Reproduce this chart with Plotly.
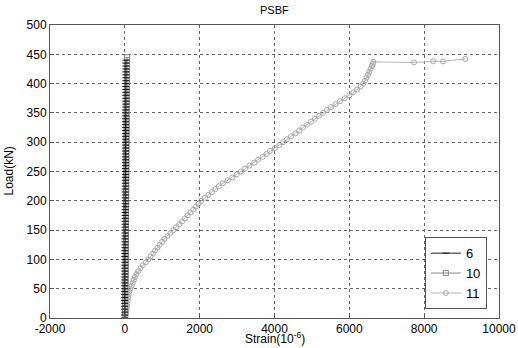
import plotly.graph_objects as go

# ---- data ----
s6_load = [0, 5, 10, 15, 20, 25, 30, 35, 40, 45, 50, 55, 60, 65, 70, 75, 80, 85, 90, 95,
           100, 105, 110, 115, 120, 125, 130, 135, 140, 145, 150, 155, 160, 165, 170, 175, 180, 185, 190, 195,
           200, 205, 210, 215, 220, 225, 230, 235, 240, 245, 250, 255, 260, 265, 270, 275, 280, 285, 290, 295,
           300, 305, 310, 315, 320, 325, 330, 335, 340, 345, 350, 355, 360, 365, 370, 375, 380, 385, 390, 395,
           400, 405, 410, 415, 420, 425, 430, 435, 440]
s6_strain = [0, -2, -3, -4, -5, -5, -6, -6, -5, -5,
             -4, -4, -3, -3, -2, -2, -1, -1, 0, 0,
             1, 1, 2, 2, 3, 3, 4, 4, 5, 5,
             6, 6, 7, 7, 8, 8, 9, 9, 10, 10,
             11, 11, 12, 12, 12, 13, 13, 14, 14, 15,
             15, 15, 16, 16, 17, 17, 17, 18, 18, 18,
             19, 19, 19, 20, 20, 20, 21, 21, 21, 22,
             22, 22, 23, 23, 23, 24, 24, 24, 25, 25,
             25, 26, 26, 27, 27, 27, 28, 28, 29]

s10_load = [0, 5, 10, 15, 20, 25, 30, 35, 40, 45, 50, 55, 60, 65, 70, 75, 80, 85, 90, 95,
            100, 105, 110, 115, 120, 125, 130, 135, 140, 145, 150, 155, 160, 165, 170, 175, 180, 185, 190, 195,
            200, 205, 210, 215, 220, 225, 230, 235, 240, 245, 250, 255, 260, 265, 270, 275, 280, 285, 290, 295,
            300, 305, 310, 315, 320, 325, 330, 335, 340, 345, 350, 355, 360, 365, 370, 375, 380, 385, 390, 395,
            400, 405, 410, 415, 420, 425, 430, 435, 440, 445]
s10_strain = [0, 3, 5, 6, 8, 10, 12, 13, 15, 16,
              17, 18, 19, 20, 21, 22, 22, 23, 24, 24,
              25, 25, 26, 26, 27, 27, 28, 28, 29, 29,
              30, 30, 31, 31, 32, 32, 33, 33, 34, 34,
              35, 35, 36, 36, 37, 38, 38, 39, 39, 40,
              40, 41, 41, 42, 42, 43, 43, 44, 44, 45,
              45, 46, 46, 47, 47, 48, 48, 49, 49, 50,
              50, 51, 51, 52, 52, 53, 53, 54, 54, 55,
              55, 56, 56, 57, 57, 58, 58, 59, 59, 60]

s11_load = [0, 3, 6, 10, 15, 20, 25, 30, 35, 40, 45, 50, 55, 60, 65, 70, 75, 80, 85, 90, 95,
            100, 105, 110, 115, 120, 125, 130, 135, 140, 145, 150, 155, 160, 165, 170, 175, 180, 185, 190, 195,
            200, 205, 210, 215, 220, 225, 230, 235, 240, 245, 250, 255, 260, 265, 270, 275, 280, 285, 290, 295,
            300, 305, 310, 315, 320, 325, 330, 335, 340, 345, 350, 355, 360, 365, 370, 375, 380, 385, 390, 395,
            400, 405, 410, 415, 420, 425, 430, 434, 437, 436, 438, 438, 442]
s11_strain = [0, 15, 25, 35, 50, 60, 70, 80, 90, 100, 120, 150, 180, 210, 240, 270, 310, 360, 420, 480, 560,
              633, 690, 753, 810, 873, 930, 994, 1060, 1140, 1220, 1297, 1370, 1454, 1530, 1607, 1680, 1752, 1830, 1896, 1970,
              2040, 2140, 2230, 2330, 2420, 2510, 2620, 2750, 2870, 2990, 3100, 3210, 3330, 3460, 3560, 3680, 3790, 3880, 4010, 4130,
              4230, 4330, 4440, 4560, 4660, 4760, 4870, 4980, 5080, 5190, 5300, 5400, 5510, 5630, 5750, 5880, 6000, 6110, 6210, 6300,
              6370, 6420, 6460, 6500, 6530, 6570, 6605, 6630, 6645, 7730, 8240, 8500, 9095]

x_ticks = [-2000, 0, 2000, 4000, 6000, 8000, 10000]
x_ticktext = ["-2000", "0", "2000", "4000", "6000", "8000", "10000"]
y_ticks = [0, 50, 100, 150, 200, 250, 300, 350, 400, 450, 500]

FONT = "Liberation Sans, Arial, sans-serif"

fig = go.Figure()
fig.add_trace(go.Scatter(
    x=s10_strain, y=s10_load, name="10", mode="lines+markers", legendrank=2,
    line=dict(color="#8a8a8a", width=1),
    marker=dict(symbol="square-open", size=5, color="#8a8a8a", line=dict(width=1)),
))
fig.add_trace(go.Scatter(
    x=s11_strain, y=s11_load, name="11", mode="lines+markers", legendrank=3,
    line=dict(color="#b4b4b4", width=1),
    marker=dict(symbol="circle-open", size=5, color="#a8a8a8", line=dict(width=1)),
))
fig.add_trace(go.Scatter(
    x=s6_strain, y=s6_load, name="6", mode="lines+markers", legendrank=1,
    line=dict(color="#222222", width=1),
    marker=dict(symbol="line-ew-open", size=5, color="#111111", line=dict(width=1)),
))

axis_common = dict(
    showgrid=True, gridcolor="#666666", griddash="dot", gridwidth=1,
    showline=True, linecolor="#555555", linewidth=1, mirror=True,
    ticks="inside", ticklen=4, tickcolor="#555555",
    zeroline=False, automargin=False,
    tickfont=dict(family=FONT, size=12, color="#000000"),
)

fig.update_layout(
    width=518, height=348,
    margin=dict(l=50, r=19, t=25, b=30, autoexpand=False),
    paper_bgcolor="white", plot_bgcolor="white",
    font=dict(family=FONT, color="#000000"),
    xaxis=dict(range=[-2000, 10000], tickmode="array", tickvals=x_ticks, ticktext=x_ticktext,
               **axis_common),
    yaxis=dict(range=[0, 500], tickvals=y_ticks, **axis_common),
    legend=dict(x=0.973, xanchor="right", y=0.03, yanchor="bottom",
                bgcolor="white", bordercolor="#555555", borderwidth=1,
                font=dict(family=FONT, size=13), tracegroupgap=0, itemwidth=30),
    showlegend=True,
    annotations=[
        dict(text="PSBF", xref="paper", yref="paper", x=0.5, y=1 + 15 / 293,
             xanchor="center", yanchor="middle", showarrow=False,
             font=dict(family=FONT, size=11)),
        dict(text="Strain(10<sup>-6</sup>)", xref="paper", yref="paper", x=0.5, y=-20 / 293,
             xanchor="center", yanchor="middle", showarrow=False,
             font=dict(family=FONT, size=12)),
        dict(text="Load(kN)", xref="paper", yref="paper", x=-42 / 449, y=0.5,
             xanchor="center", yanchor="middle", showarrow=False, textangle=-90,
             font=dict(family=FONT, size=12)),
    ],
)

fig.write_html("out.html", config={"displayModeBar": False},
               post_script="document.body.style.margin='0';")
